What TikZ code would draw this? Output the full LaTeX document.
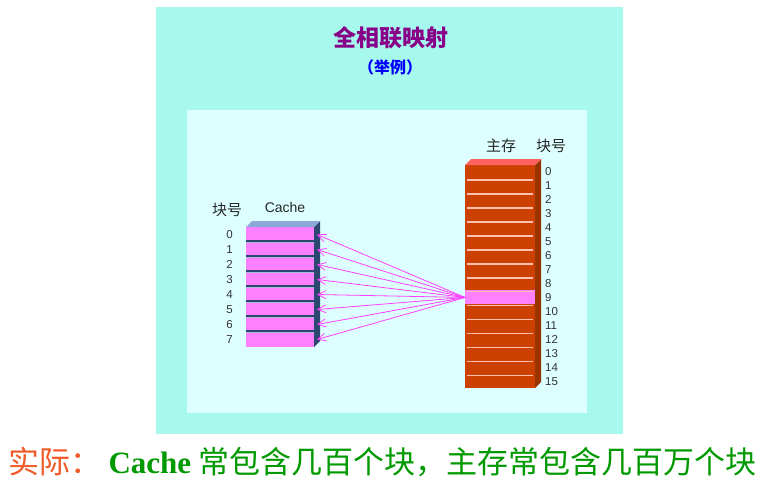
\documentclass[tikz,border=0pt]{standalone}
\usepackage{fontspec}
\setmainfont{Liberation Serif}
\setsansfont{Liberation Sans}
\newfontfamily\cjk{Noto Sans CJK SC}
\usetikzlibrary{positioning,arrows.meta}

\definecolor{outerbg}{RGB}{166,249,236}
\definecolor{innerbg}{RGB}{222,255,255}
\definecolor{titlepurple}{RGB}{136,0,136}
\definecolor{cachepink}{RGB}{255,128,255}
\definecolor{cacheside}{RGB}{44,72,112}
\definecolor{cachetop}{RGB}{140,168,216}
\definecolor{cachelight}{RGB}{176,184,216}
\definecolor{memfront}{RGB}{204,64,0}
\definecolor{memside}{RGB}{153,51,0}
\definecolor{memtop}{RGB}{255,96,96}
\definecolor{memstripe}{RGB}{255,192,176}
\definecolor{linkpink}{RGB}{255,64,255}
\definecolor{noteorange}{RGB}{240,90,40}
\definecolor{notegreen}{RGB}{0,153,0}

\tikzstyle{cacherow} = [rectangle, fill=cachepink, minimum width=68pt,
    minimum height=15pt, inner sep=0pt, outer sep=0pt]
\tikzstyle{memrow} = [rectangle, fill=memfront, minimum width=70pt,
    minimum height=13.94pt, inner sep=0pt, outer sep=0pt]
\tikzstyle{numlabel} = [font=\sffamily\fontsize{11.5}{11.5}\selectfont, text=black!80, inner sep=1pt]
\tikzstyle{headlabel} = [font=\cjk\fontsize{15}{15}\selectfont, text=black!85, inner sep=0pt]
\tikzstyle{link} = [draw=linkpink, line width=0.8pt, -{Straight Barb[length=8pt,width=8pt]}]

\begin{document}
\begin{tikzpicture}[x=1pt, y=-1pt]
    \useasboundingbox (0,0) rectangle (780,482);
    \fill[white] (0,0) rectangle (780,482);
    \fill[outerbg] (156,7) rectangle (623,434);
    \fill[innerbg] (187,110) rectangle (587,413);

    % title
    \node[font=\cjk\bfseries\fontsize{23}{23}\selectfont, text=titlepurple] (title) at (391,38) {全相联映射};
    \node[font=\cjk\bfseries\fontsize{16}{16}\selectfont, text=blue] (example) at (390,67) {（举例）};

    % cache
    \foreach \i in {0,...,7}
        \node[cacherow] (c\i) at (280,234.5+15*\i) {};
    \foreach \i in {1,...,7} {
        \draw[cacheside, line width=1.6pt] ([yshift=0.8pt]c\i.north west) -- ([yshift=0.8pt]c\i.north east);
        \draw[cachelight, line width=1.2pt] ([yshift=-0.7pt]c\i.north west) -- ([yshift=-0.7pt]c\i.north east);
    }
    \fill[cacheside] (c0.north east) -- ++(6,-6) -- ([shift={(6,-6)}]c7.south east) -- (c7.south east) -- cycle;
    \fill[cachetop] (c0.north west) -- ++(6,-6) -- ([shift={(6,-6)}]c0.north east) -- (c0.north east) -- cycle;
    \foreach \i in {0,...,7}
        \node[numlabel, left=12pt of c\i.west] (cn\i) {\i};
    \node[headlabel] (cacheno) at (227,210) {块号};
    \node[font=\sffamily\fontsize{14}{14}\selectfont, text=black!85] (cachename) at (285,207) {Cache};

    % main memory
    \foreach \i in {0,...,15}
        \node[memrow] (m\i) at (500,172+13.94*\i) {};
    \fill[cachepink] (m9.north west) rectangle (m9.south east);
    \foreach \i in {1,...,15}
        \draw[memstripe, line width=1.5pt] ([xshift=2pt, yshift=-1.2pt]m\i.north west) -- ([xshift=-2pt, yshift=-1.2pt]m\i.north east);
    \fill[memside] (m0.north east) -- ++(6,-6) -- ([shift={(6,-6)}]m15.south east) -- (m15.south east) -- cycle;
    \fill[memtop] (m0.north west) -- ++(6,-6) -- ([shift={(6,-6)}]m0.north east) -- (m0.north east) -- cycle;
    \foreach \i in {0,...,15}
        \node[numlabel, right=9pt of m\i.east] (mn\i) {\i};
    \node[headlabel] (memname) at (501,146) {主存};
    \node[headlabel] (memno) at (551,146) {块号};

    % block 9 may go to any cache block
    \foreach \i in {0,...,7}
        \draw[link] (m9.west) -- ([xshift=3pt]c\i.east);

    % note
    \node[font=\cjk\fontsize{31}{31}\selectfont, text=noteorange, anchor=west, inner sep=0pt] (practice) at (8,462) {实际：};
    \node[font=\fontsize{31}{31}\selectfont, text=notegreen, anchor=base west, inner sep=0pt] (fact)
        at ([xshift=7pt]practice.base east) {\textbf{Cache} {\cjk 常包含几百个块，主存常包含几百万个块}};
\end{tikzpicture}
\end{document}
